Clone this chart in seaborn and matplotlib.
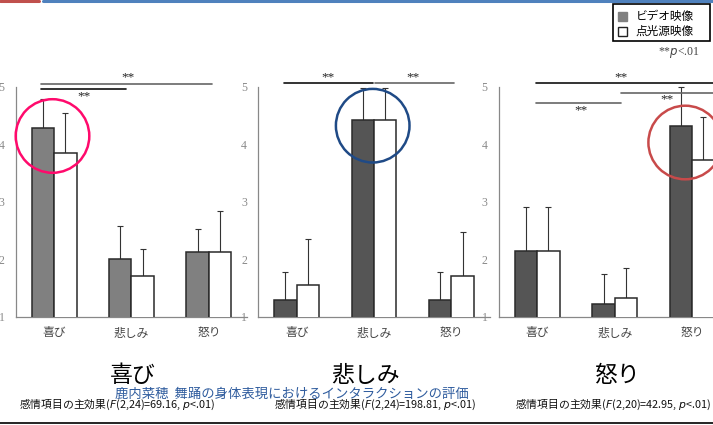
import numpy as np
import pandas as pd
import matplotlib
matplotlib.use("Agg")
import matplotlib.pyplot as plt
from matplotlib.patches import Circle, Rectangle
from matplotlib.lines import Line2D
import seaborn as sns

# ---- data ----
categories = ["喜び", "悲しみ", "怒り"]
conditions = ["ビデオ映像", "点光源映像"]

joy_video = [4.29, 2.00, 2.12]
joy_video_sd = [0.50, 0.58, 0.40]
joy_point = [3.85, 1.70, 2.12]
joy_point_sd = [0.70, 0.48, 0.71]

sad_video = [1.29, 4.42, 1.29]
sad_video_sd = [0.49, 0.56, 0.49]
sad_point = [1.56, 4.42, 1.70]
sad_point_sd = [0.79, 0.56, 0.77]

ang_video = [2.15, 1.22, 4.32]
ang_video_sd = [0.76, 0.52, 0.68]
ang_point = [2.15, 1.33, 3.72]
ang_point_sd = [0.76, 0.52, 0.76]

panel_titles = ["喜び", "悲しみ", "怒り"]
main_effects = [
    "感情項目の主効果($F$(2,24)=69.16, $p$<.01)",
    "感情項目の主効果($F$(2,24)=198.81, $p$<.01)",
    "感情項目の主効果($F$(2,20)=42.95, $p$<.01)",
]
author_line = "鹿内菜穂  舞踊の身体表現におけるインタラクションの評価"
yticks = [1, 2, 3, 4, 5]

sns.set_theme(style="white")
plt.rcParams["font.family"] = ["Noto Sans CJK JP", "DejaVu Sans"]
plt.rcParams["mathtext.fontset"] = "dejavusans"

W, H = 713, 425
DPI = 100
fig = plt.figure(figsize=(W / DPI, H / DPI), dpi=DPI)
fig.patch.set_facecolor("white")


def px_axes(x0, x1, ytop, ybot):
    return fig.add_axes([x0 / W, 1 - ybot / H, (x1 - x0) / W, (ybot - ytop) / H])


def fx(x):
    return x / W


def fy(y):
    return 1 - y / H


SERIF = ["Liberation Serif", "DejaVu Serif"]
panels = [
    dict(x0=15.5, x1=247.5, color="#808080",
         v=joy_video, vs=joy_video_sd, p=joy_point, ps=joy_point_sd),
    dict(x0=258, x1=490, color="#555555",
         v=sad_video, vs=sad_video_sd, p=sad_point, ps=sad_point_sd),
    dict(x0=498.5, x1=731, color="#555555",
         v=ang_video, vs=ang_video_sd, p=ang_point, ps=ang_point_sd),
]

axes = []
for i, pn in enumerate(panels):
    ax = px_axes(pn["x0"], pn["x1"], 86.7, 316.7)
    df = pd.DataFrame({
        "cat": categories * 2,
        "cond": [conditions[0]] * 3 + [conditions[1]] * 3,
        "val": pn["v"] + pn["p"],
        "sd": pn["vs"] + pn["ps"],
    })
    sns.barplot(data=df, x="cat", y="val", hue="cond", order=categories,
                hue_order=conditions, palette=[pn["color"], "white"],
                width=0.58, errorbar=None, edgecolor="#2a2a2a",
                linewidth=1.1, legend=False, ax=ax, zorder=3)
    # upward-only error bars at each bar's centre
    for patch, (val, sd) in zip(ax.patches, zip(df["val"], df["sd"])):
        cx = patch.get_x() + patch.get_width() / 2
        ax.errorbar([cx], [val], yerr=[[0], [sd]], fmt="none",
                    ecolor="#333333", elinewidth=0.8, capsize=2.5,
                    capthick=0.8, clip_on=False, zorder=2)
    ax.set_xlim(-0.5, 2.5)
    ax.set_ylim(1, 5)
    ax.set_yticks(yticks)
    ax.set_yticklabels([str(t) for t in yticks], fontsize=8.5,
                       family=SERIF, color="#8a8a8a")
    ax.set_xticks(range(3))
    ax.set_xticklabels(categories, fontsize=8.5, color="#444444")
    ax.set_xticks([0.5, 1.5], minor=True)
    ax.tick_params(axis="x", which="major", length=0, pad=7)
    ax.tick_params(axis="x", which="minor", length=2, color="#888888",
                   direction="out")
    ax.tick_params(axis="y", length=3, color="#999999", direction="in",
                   pad=8)
    ax.set_xlabel("")
    ax.set_ylabel("")
    for s in ["top", "right"]:
        ax.spines[s].set_visible(False)
    for s in ["left", "bottom"]:
        ax.spines[s].set_color("#888888")
        ax.spines[s].set_linewidth(0.9)
    ax.set_facecolor("none")
    axes.append(ax)


# significance brackets drawn in figure pixel space
def sig_line(x0, x1, y, color, star_x, star_y):
    fig.add_artist(Line2D([fx(x0), fx(x1)], [fy(y), fy(y)],
                          color=color, lw=1.2, transform=fig.transFigure))
    fig.text(fx(star_x), fy(star_y), "**", ha="center", va="center",
             fontsize=9.5, family=SERIF, color="#222222")


sig_line(41, 212, 83.7, "#666666", 128, 77)
sig_line(41, 126, 89.3, "#111111", 84, 96)
sig_line(284, 373, 83, "#111111", 328, 77)
sig_line(375, 454, 83, "#666666", 413, 77)
sig_line(536, 713, 83, "#111111", 621, 77)
sig_line(621, 713, 93, "#666666", 667, 99)
sig_line(536, 621, 103, "#666666", 581, 110)

# highlight circles (placed in inches so they stay round)
for (cx, cy, col) in [(52.5, 136, "#FF0A6C"), (372.7, 125.7, "#1F4A86"),
                      (685.2, 142.5, "#C84A4A")]:
    fig.add_artist(Circle((cx / DPI, (H - cy) / DPI), 36.8 / DPI,
                          transform=fig.dpi_scale_trans, fill=False,
                          edgecolor=col, lw=1.8))

# panel titles and statistics
for tx, ty_text, sx, stat in [(133, "喜び", 117, main_effects[0]),
                              (366, "悲しみ", 375, main_effects[1]),
                              (617, "怒り", 613, main_effects[2])]:
    fig.text(fx(tx), fy(376), ty_text, ha="center", va="center",
             fontsize=16.5, color="black")
    fig.text(fx(sx), fy(404), stat, ha="center", va="center",
             fontsize=7.8, color="#111111")

fig.text(fx(292), fy(394), author_line, ha="center", va="center",
         fontsize=9.6, color="#2F5C9E")

# legend box
fig.add_artist(Rectangle((fx(613), fy(41)), (710 - 613) / W, 37 / H,
                         transform=fig.transFigure, fill=True,
                         facecolor="white", edgecolor="black", lw=1.2))
for (row_y, face, edge, label) in [(16.5, "#808080", "#808080", conditions[0]),
                                   (31.5, "white", "#222222", conditions[1])]:
    fig.add_artist(Rectangle((fx(617.5), fy(row_y + 4.5)), 9 / W, 9 / H,
                             transform=fig.transFigure, facecolor=face,
                             edgecolor=edge, lw=1.0))
    fig.text(fx(636), fy(row_y), label, ha="left", va="center",
             fontsize=8.4, color="black")

fig.text(fx(700), fy(52), "**$p$<.01", ha="right", va="center",
         fontsize=8.5, family=SERIF, color="#444444")

# slide header and footer rules
fig.add_artist(Line2D([0, fx(39)], [fy(1)] * 2, color="#C0504D", lw=2.2,
                      transform=fig.transFigure))
fig.add_artist(Line2D([fx(43), 1], [fy(1)] * 2, color="#4F81BD", lw=2.2,
                      transform=fig.transFigure))
fig.add_artist(Line2D([0, 1], [fy(423)] * 2, color="black", lw=1.2,
                      transform=fig.transFigure))

fig.savefig("out.png", dpi=DPI, facecolor="white")
